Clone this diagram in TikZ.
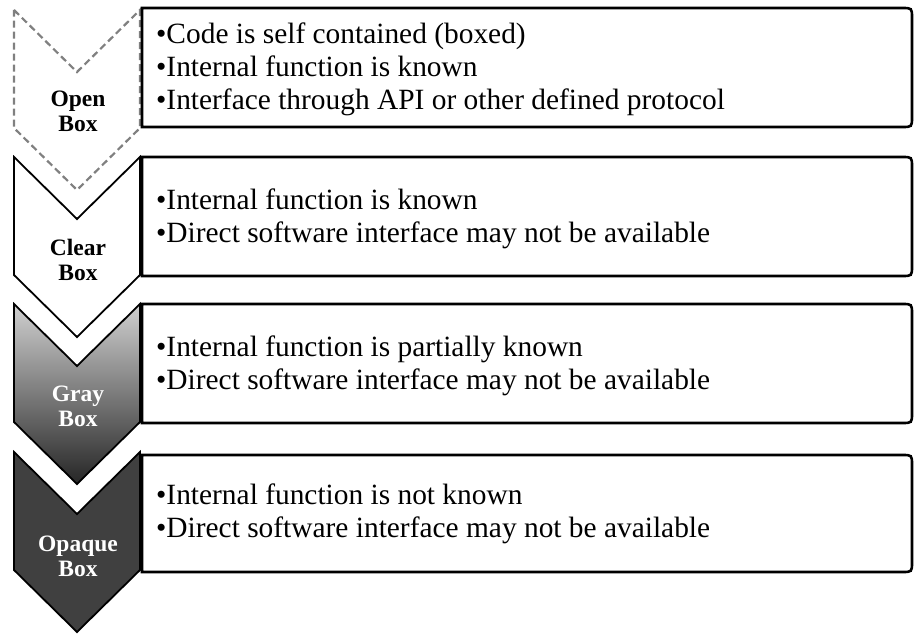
\documentclass[tikz,border=0pt]{standalone}
\usepackage{fontspec}
\setmainfont{Liberation Serif}
\definecolor{dashgray}{HTML}{808080}
\definecolor{opaquefill}{HTML}{404040}
\definecolor{graytop}{HTML}{D0D0D0}
\definecolor{graybot}{HTML}{262626}
\begin{document}
\begin{tikzpicture}[x=1pt,y=-1pt,
  boxline/.style={draw=black, line width=2.6pt, fill=white, line join=miter},
  chevline/.style={draw=black, line width=1.8pt, line join=miter},
  openline/.style={draw=dashgray, line width=2.2pt, dash pattern=on 7pt off 4pt},
  bodytext/.style={anchor=west, inner sep=0pt, align=left,
    font=\fontsize{29.4}{33}\selectfont},
  labeltext/.style={inner sep=0pt, align=center,
    font=\bfseries\fontsize{23.5}{25}\selectfont}]
\useasboundingbox (0,0) rectangle (915,634);

% chevron outline with top edge at #1
\def\chevron#1{(14,#1) -- (77,#1+62) -- (140,#1) -- (140,#1+118) -- (77,#1+180) -- (14,#1+118) -- cycle}
% text panel, square on the left, rounded on the right
\def\panel#1#2{(142,#1) -- (902,#1) .. controls (912,#1) .. (912,#1+10) -- (912,#2-10) .. controls (912,#2) .. (902,#2) -- (142,#2) -- cycle}

% chevrons
\path[openline] \chevron{10};
\path[chevline, fill=white] \chevron{157};
\path[chevline, top color=graytop, bottom color=graybot] \chevron{304};
\path[chevline, fill=opaquefill] \chevron{452};

% panels
\path[boxline] \panel{8}{127};
\path[boxline] \panel{157}{276};
\path[boxline] \panel{304}{423};
\path[boxline] \panel{455}{572};

% chevron labels
\node[labeltext] (lopen) at (78,111) {Open\\Box};
\node[labeltext] (lclear) at (78,260) {Clear\\Box};
\node[labeltext, text=white] (lgray) at (78,406) {Gray\\Box};
\node[labeltext, text=white] (lopaque) at (78,556) {Opaque\\Box};

% panel texts
\node[bodytext] (topen) at (156,69) {\textbullet Code is self contained (boxed)\\\textbullet Internal function is known\\\textbullet Interface through API or other defined protocol};
\node[bodytext] (tclear) at (156,219) {\textbullet Internal function is known\\\textbullet Direct software interface may not be available};
\node[bodytext] (tgray) at (156,366) {\textbullet Internal function is partially known\\\textbullet Direct software interface may not be available};
\node[bodytext] (topaque) at (156,514) {\textbullet Internal function is not known\\\textbullet Direct software interface may not be available};
\end{tikzpicture}
\end{document}
